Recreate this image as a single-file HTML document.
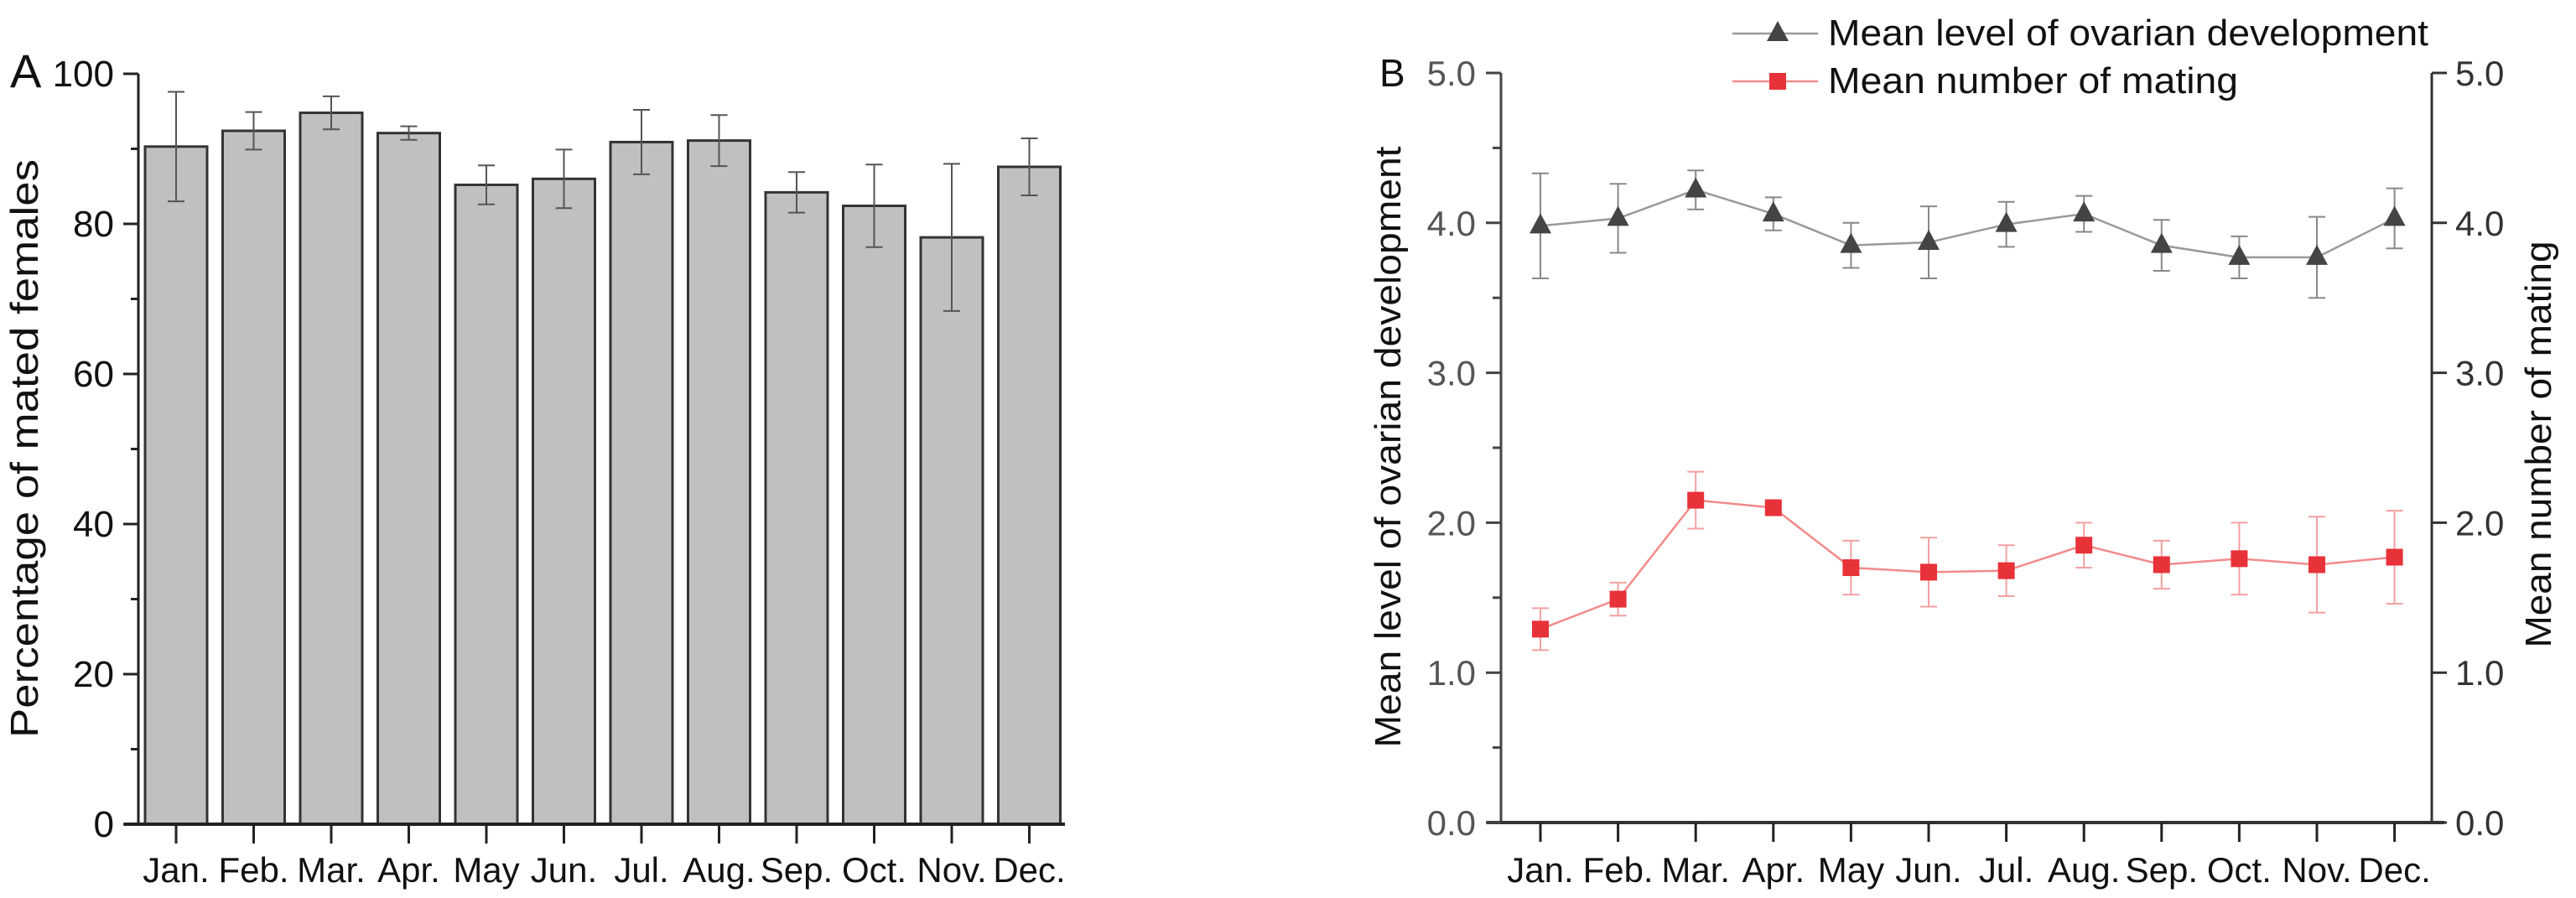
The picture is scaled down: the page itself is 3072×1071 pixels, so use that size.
<!DOCTYPE html>
<html><head><meta charset="utf-8"><style>
html,body{margin:0;padding:0;background:#fff;}
svg{display:block;font-family:"Liberation Sans",Arial,sans-serif;}
</style></head><body>
<svg id="chart" width="3072" height="1071" viewBox="0 0 3072 1071" xmlns="http://www.w3.org/2000/svg">
<g id="panelA"></g>
<g id="panelB"></g>
</svg>
<script>
const months = ["Jan.","Feb.","Mar.","Apr.","May","Jun.","Jul.","Aug.","Sep.","Oct.","Nov.","Dec."];
const matedPct = [90.3,92.4,94.8,92.1,85.2,86.0,90.9,91.1,84.2,82.4,78.2,87.6];
const matedErr = [7.3,2.5,2.2,0.9,2.6,3.9,4.3,3.4,2.7,5.5,9.8,3.8];
const ticksA = [0,20,40,60,80,100];
const ovary = [3.98,4.03,4.22,4.06,3.85,3.87,3.99,4.06,3.85,3.77,3.77,4.03];
const ovaryErr = [0.35,0.23,0.13,0.11,0.15,0.24,0.15,0.12,0.17,0.14,0.27,0.20];
const mating = [1.29,1.49,2.15,2.10,1.70,1.67,1.68,1.85,1.72,1.76,1.72,1.77];
const matingErr = [0.14,0.11,0.19,0.03,0.18,0.23,0.17,0.15,0.16,0.24,0.32,0.31];
const ticksB = [0,1,2,3,4,5];

const NS="http://www.w3.org/2000/svg";
function mk(parent,tag,attrs,text){const e=document.createElementNS(NS,tag);for(const k in attrs)e.setAttribute(k,attrs[k]);if(text!==undefined)e.textContent=text;parent.appendChild(e);return e;}

// ---------- Panel A ----------
const A=document.getElementById('panelA');
const axA={x0:165,y0:983,yTop:88,x1:1270};
const xA=i=>210+i*92.5;
const yA=v=>axA.y0-(v/100)*(axA.y0-axA.yTop);
matedPct.forEach((v,i)=>{
  const r=mk(A,'rect',{x:xA(i)-37,y:yA(v),width:74,height:axA.y0-yA(v),fill:'#c0c0c0',stroke:'#333','stroke-width':3});
  
  
  const g=mk(A,'g',{stroke:'#555','stroke-width':2});
  
  
  const hi=yA(v+matedErr[i]),lo=yA(v-matedErr[i]);
  mk(g,'line',{x1:xA(i),x2:xA(i),y1:hi,y2:lo});
  mk(g,'line',{x1:xA(i)-10,x2:xA(i)+10,y1:hi,y2:hi});
  mk(g,'line',{x1:xA(i)-10,x2:xA(i)+10,y1:lo,y2:lo});
});
const yAxA=mk(A,'line',{x1:axA.x0,x2:axA.x0,y1:axA.yTop,y2:axA.y0,stroke:'#222','stroke-width':3});


const xAxA=mk(A,'line',{x1:148,x2:axA.x1,y1:axA.y0,y2:axA.y0,stroke:'#222','stroke-width':4});


ticksA.forEach(t=>{
  mk(A,'line',{x1:147,x2:axA.x0,y1:yA(t),y2:yA(t),stroke:'#222','stroke-width':3});
  if(t<100) mk(A,'line',{x1:156,x2:axA.x0,y1:yA(t+10),y2:yA(t+10),stroke:'#222','stroke-width':3});
  const tl=mk(A,'text',{x:136,y:yA(t)+15,'text-anchor':'end','font-size':44,fill:'#111'},String(t));
  
  
});
months.forEach((m,i)=>{
  mk(A,'line',{x1:xA(i),x2:xA(i),y1:axA.y0,y2:1006,stroke:'#222','stroke-width':3});
  const tl=mk(A,'text',{x:xA(i),y:1052,'text-anchor':'middle','font-size':42,fill:'#111'},m);
  
  
});
const tA=mk(A,'text',{x:0,y:0,'text-anchor':'middle','font-size':46,fill:'#111',transform:'translate(45,535) rotate(-90)',textLength:690,lengthAdjust:'spacingAndGlyphs'},'Percentage of mated females');


const lA=mk(A,'text',{x:12,y:104,'font-size':56,fill:'#111'},'A');



// ---------- Panel B ----------
const B=document.getElementById('panelB');
const axB={x0:1790,x1:2900,y0:981,yTop:87};
const xB=i=>1837+i*92.6;
const yB=v=>axB.y0-(v/5)*(axB.y0-axB.yTop);
// axes
const yl=mk(B,'line',{x1:axB.x0,x2:axB.x0,y1:axB.yTop,y2:axB.y0,stroke:'#444','stroke-width':3});


const yr=mk(B,'line',{x1:axB.x1,x2:axB.x1,y1:axB.yTop,y2:axB.y0,stroke:'#333','stroke-width':3});


const xl=mk(B,'line',{x1:1773,x2:axB.x1+15,y1:axB.y0,y2:axB.y0,stroke:'#333','stroke-width':4});


ticksB.forEach(t=>{
  mk(B,'line',{x1:1772,x2:axB.x0,y1:yB(t),y2:yB(t),stroke:'#444','stroke-width':3});
  if(t<5) mk(B,'line',{x1:1780,x2:axB.x0,y1:yB(t+0.5),y2:yB(t+0.5),stroke:'#444','stroke-width':3});
  mk(B,'line',{x1:axB.x1,x2:axB.x1+18,y1:yB(t),y2:yB(t),stroke:'#333','stroke-width':3});
  const l1=mk(B,'text',{x:1760,y:yB(t)+15,'text-anchor':'end','font-size':42,fill:'#555'},t.toFixed(1));
  
  
  const l2=mk(B,'text',{x:2928,y:yB(t)+15,'text-anchor':'start','font-size':42,fill:'#333'},t.toFixed(1));
  
  
});
months.forEach((m,i)=>{
  mk(B,'line',{x1:xB(i),x2:xB(i),y1:axB.y0,y2:1004,stroke:'#222','stroke-width':3});
  const tl=mk(B,'text',{x:xB(i),y:1052,'text-anchor':'middle','font-size':42,fill:'#111'},m);
  
  
});
// series lines
const ptsO=ovary.map((v,i)=>xB(i)+','+yB(v)).join(' ');
const lo=mk(B,'polyline',{points:ptsO,fill:'none',stroke:'#999','stroke-width':2.5});


const ptsM=mating.map((v,i)=>xB(i)+','+yB(v)).join(' ');
const lm=mk(B,'polyline',{points:ptsM,fill:'none',stroke:'#f28a8a','stroke-width':2.5});


function errbar(x,v,e,col,name){
  const g=mk(B,'g',{stroke:col,'stroke-width':2});
  
  
  const hi=yB(v+e),lo=yB(v-e);
  mk(g,'line',{x1:x,x2:x,y1:hi,y2:lo});
  mk(g,'line',{x1:x-10,x2:x+10,y1:hi,y2:hi});
  mk(g,'line',{x1:x-10,x2:x+10,y1:lo,y2:lo});
}
ovary.forEach((v,i)=>{
  errbar(xB(i),v,ovaryErr[i],'#888','ovary-error-bar');
  const x=xB(i),y=yB(v);
  const p=mk(B,'polygon',{points:`${x},${y-15} ${x-13},${y+9} ${x+13},${y+9}`,fill:'#444'});
  
  
});
mating.forEach((v,i)=>{
  errbar(xB(i),v,matingErr[i],'#f4a0a0','mating-error-bar');
  const r=mk(B,'rect',{x:xB(i)-10,y:yB(v)-10,width:20,height:20,fill:'#e8323a'});
  
  
});
// titles
const tl=mk(B,'text',{x:0,y:0,'text-anchor':'middle','font-size':44,fill:'#111',transform:'translate(1670,533) rotate(-90)',textLength:717,lengthAdjust:'spacingAndGlyphs'},'Mean level of ovarian development');


const tr=mk(B,'text',{x:0,y:0,'text-anchor':'middle','font-size':44,fill:'#111',transform:'translate(3042,530) rotate(-90)',textLength:485,lengthAdjust:'spacingAndGlyphs'},'Mean number of mating');


const lB=mk(B,'text',{x:1645,y:103,'font-size':46,fill:'#111'},'B');


// legend
const lg=mk(B,'g',{});


const le1=mk(lg,'g',{});


mk(le1,'line',{x1:2066,x2:2168,y1:40,y2:40,stroke:'#999','stroke-width':2.5});
mk(le1,'polygon',{points:'2120,25 2107,49 2133,49',fill:'#444'});
mk(le1,'text',{x:2180,y:54,'font-size':44,fill:'#111',textLength:716,lengthAdjust:'spacingAndGlyphs'},'Mean level of ovarian development');
const le2=mk(lg,'g',{});


mk(le2,'line',{x1:2066,x2:2168,y1:97,y2:97,stroke:'#f28a8a','stroke-width':2.5});
mk(le2,'rect',{x:2110,y:87,width:20,height:20,fill:'#e8323a'});
mk(le2,'text',{x:2180,y:111,'font-size':44,fill:'#111',textLength:489,lengthAdjust:'spacingAndGlyphs'},'Mean number of mating');
</script>
</body></html>
